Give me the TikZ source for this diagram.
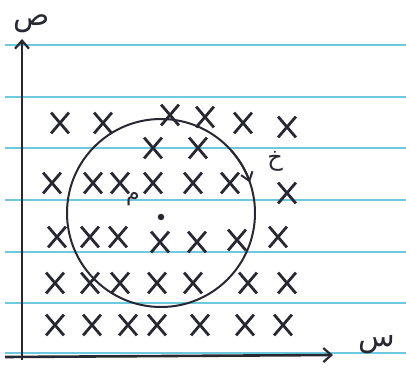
\documentclass[tikz,border=0pt]{standalone}
\usepackage{fontspec}
\usepackage{tikz}
\usetikzlibrary{arrows.meta,shapes.misc}
\TeXXeTstate=1
\newfontfamily\arabicfont[Script=Arabic]{DejaVu Sans}
\definecolor{penink}{RGB}{40,40,50}
\definecolor{ruleblue}{RGB}{110,200,222}

\begin{document}
\begin{tikzpicture}[x=1pt,y=1pt,
  ruled/.style={ruleblue,line width=1.5pt},
  axis/.style={penink,line width=2.6pt,
               -{Straight Barb[length=8pt,width=14pt,line width=2.2pt]}},
  xmark/.style={cross out,draw=penink,line width=2.8pt,
                minimum width=15pt,minimum height=18pt,inner sep=0pt},
  letter/.style={text=penink,inner sep=0pt,
                 font=\arabicfont\fontsize{30}{30}\selectfont}]
  \useasboundingbox (0,0) rectangle (406,367);
  \foreach \y in {14,64,115,167,219,270,322}
    \draw[ruled] (5,\y) -- (406,\y);
  \coordinate (xstart) at (5,10);
  \coordinate (xtip) at (333,12);
  \coordinate (ystart) at (22,7);
  \coordinate (ytip) at (22,328);
  \draw[axis] (xstart) -- (xtip);
  \draw[axis] (ystart) -- (ytip);
  \node[letter] (ylab) at (32,343) {\beginR ص\endR};
  \node[letter] (xlab) at (377,22) {\beginR س\endR};
  \node[circle,draw=penink,line width=2pt,minimum size=188pt,
        inner sep=0pt,outer sep=0pt] (loop) at (161,154) {};
  \draw[penink,line width=2pt,
        -{Straight Barb[length=8pt,width=12pt,line width=2pt]}]
    (loop.42) arc[start angle=42,end angle=19,radius=94];
  \node[circle,fill=penink,inner sep=0pt,minimum size=6.5pt] (centre) at (161,150) {};
  \node[letter,font=\arabicfont\fontsize{24}{24}\selectfont] (clab) at (275,206) {\beginR خ\endR};
  \node[letter,font=\arabicfont\fontsize{22}{22}\selectfont] (rlab) at (133,168) {\beginR م\endR};
  \foreach \x/\y [count=\i] in {60/244,103/244,170/252,205/250,243/244,287/240,
      153/219,198/219,
      52/184,93/184,120/184,153/184,193/184,230/184,287/174,
      57/130,90/130,118/130,160/125,197/125,237/127,278/130,
      55/84,90/84,120/84,157/84,193/84,248/84,287/84,
      55/42,92/42,128/42,157/42,200/42,245/42,283/42}
    \node[xmark] (m\i) at (\x,\y) {};
\end{tikzpicture}
\end{document}
